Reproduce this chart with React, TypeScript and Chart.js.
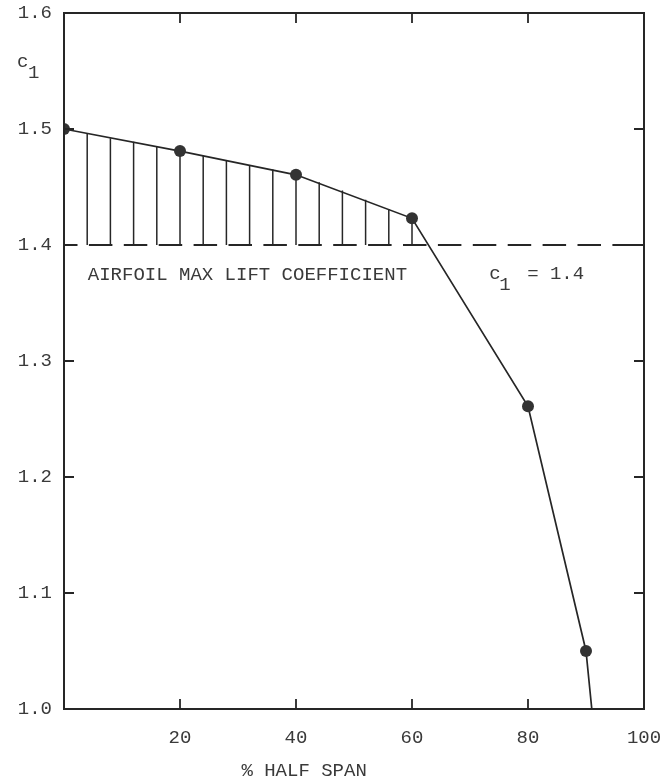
import React, { useEffect, useRef } from "react";
import { Chart, registerables } from "chart.js";

Chart.register(...registerables);

// ---- data ----
const spanPct = [0, 20, 40, 60, 80, 90, 91];
const liftCoef = [1.5, 1.481, 1.4605, 1.423, 1.261, 1.05, 1.0];
const markerRadius = [6, 6, 6, 6, 6, 6, 0];
const airfoilMaxCl = 1.4;
const limitLineX = [0, 100];
const hatchX = [4, 8, 12, 16, 20, 24, 28, 32, 36, 40, 44, 48, 52, 56, 60];
const hatchTop = [1.496, 1.492, 1.489, 1.485, 1.481, 1.477, 1.473, 1.469, 1.465, 1.4605, 1.454, 1.447, 1.439, 1.431, 1.423];
const xTickValues = [20, 40, 60, 80, 100];
const yTickValues = [1.0, 1.1, 1.2, 1.3, 1.4, 1.5, 1.6];
const xTitle = "% HALF SPAN";
const yTitleMain = "c";
const yTitleSub = "1";
const noteText = "AIRFOIL MAX LIFT COEFFICIENT";
const limitMain = "c";
const limitSub = "1";
const limitRest = "= 1.4";

const INK = "#262626";
const TEXT = "#3a3a3a";
const FONT = '19px "Liberation Mono", "DejaVu Sans Mono", monospace';

const overlay = {
  id: "overlay",
  beforeDatasetsDraw(chart: any) {
    const { ctx, scales } = chart;
    const x = scales.x, y = scales.y;
    ctx.save();
    ctx.strokeStyle = INK;
    ctx.lineWidth = 1.5;
    hatchX.forEach((hx, i) => {
      const px = x.getPixelForValue(hx);
      ctx.beginPath();
      ctx.moveTo(px, y.getPixelForValue(airfoilMaxCl));
      ctx.lineTo(px, y.getPixelForValue(hatchTop[i]));
      ctx.stroke();
    });
    ctx.restore();
  },
  afterDraw(chart: any) {
    const { ctx, chartArea: a, scales } = chart;
    const x = scales.x, y = scales.y;
    ctx.save();
    // frame
    ctx.strokeStyle = INK;
    ctx.lineWidth = 2;
    ctx.strokeRect(a.left, a.top, a.right - a.left, a.bottom - a.top);
    // inward ticks
    const tl = 10;
    ctx.lineWidth = 1.8;
    xTickValues.forEach((v) => {
      if (v >= 100) return;
      const px = x.getPixelForValue(v);
      ctx.beginPath();
      ctx.moveTo(px, a.bottom);
      ctx.lineTo(px, a.bottom - tl);
      ctx.moveTo(px, a.top);
      ctx.lineTo(px, a.top + tl);
      ctx.stroke();
    });
    yTickValues.forEach((v) => {
      if (v <= 1.0 || v >= 1.6) return;
      const py = y.getPixelForValue(v);
      ctx.beginPath();
      ctx.moveTo(a.left, py);
      ctx.lineTo(a.left + tl, py);
      ctx.moveTo(a.right, py);
      ctx.lineTo(a.right - tl, py);
      ctx.stroke();
    });
    // texts
    ctx.fillStyle = TEXT;
    ctx.font = FONT;
    ctx.textBaseline = "alphabetic";
    ctx.textAlign = "left";
    // y title c1
    ctx.fillText(yTitleMain, 17, 67);
    ctx.fillText(yTitleSub, 28, 78);
    // note
    const ny = y.getPixelForValue(1.4) + 35;
    ctx.fillText(noteText, x.getPixelForValue(4.1), ny);
    // c1 = 1.4
    const cx = x.getPixelForValue(73.3);
    ctx.fillText(limitMain, cx, ny - 1);
    ctx.fillText(limitSub, cx + 10, ny + 10);
    ctx.fillText(limitRest, cx + 38, ny - 1);
    // x title
    ctx.textAlign = "center";
    ctx.fillText(xTitle, x.getPixelForValue(41.4), 776);
    ctx.restore();
  },
};

export default function App() {
  const ref = useRef<HTMLCanvasElement | null>(null);
  useEffect(() => {
    document.body.style.margin = "0";
    document.body.style.background = "#ffffff";
    const canvas = ref.current!;
    const chart = new Chart(canvas, {
      type: "line",
      data: {
        datasets: [
          {
            data: spanPct.map((v, i) => ({ x: v, y: liftCoef[i] })),
            borderColor: INK,
            borderWidth: 1.7,
            pointRadius: markerRadius,
            pointBackgroundColor: "#333333",
            pointBorderColor: "#333333",
            pointBorderWidth: 0,
            tension: 0,
          },
          {
            data: limitLineX.map((v) => ({ x: v, y: airfoilMaxCl })),
            borderColor: INK,
            borderWidth: 1.8,
            borderDash: [23.5, 11.4],
            borderDashOffset: 10,
            pointRadius: 0,
          },
        ],
      },
      plugins: [overlay],
      options: {
        responsive: false,
        animation: false,
        events: [],
        layout: { padding: { top: 13, right: 24, left: 0, bottom: 0 } },
        plugins: { legend: { display: false }, tooltip: { enabled: false }, title: { display: false } },
        scales: {
          x: {
            type: "linear",
            min: 0,
            max: 100,
            afterFit: (s: any) => {
              s.height = 75;
              s.paddingLeft = 0;
              s.paddingRight = 0;
            },
            afterBuildTicks: (s: any) => { s.ticks = xTickValues.map((v) => ({ value: v })); },
            grid: { display: false, drawTicks: false },
            border: { display: false },
            ticks: {
              padding: 18,
              color: TEXT,
              font: { family: '"Liberation Mono", monospace', size: 19 },
              callback: (v: any) => String(v),
              maxRotation: 0,
              autoSkip: false,
            },
          },
          y: {
            type: "linear",
            min: 1.0,
            max: 1.6,
            afterFit: (s: any) => {
              s.width = 64;
              s.paddingTop = 0;
              s.paddingBottom = 0;
            },
            afterBuildTicks: (s: any) => { s.ticks = yTickValues.map((v) => ({ value: v })); },
            grid: { display: false, drawTicks: false },
            border: { display: false },
            ticks: {
              padding: 12,
              color: TEXT,
              font: { family: '"Liberation Mono", monospace', size: 19 },
              callback: (v: any) => Number(v).toFixed(1),
              autoSkip: false,
            },
          },
        },
      },
    });
    return () => chart.destroy();
  }, []);
  return <canvas ref={ref} width={668} height={784} style={{ display: "block" }} />;
}
